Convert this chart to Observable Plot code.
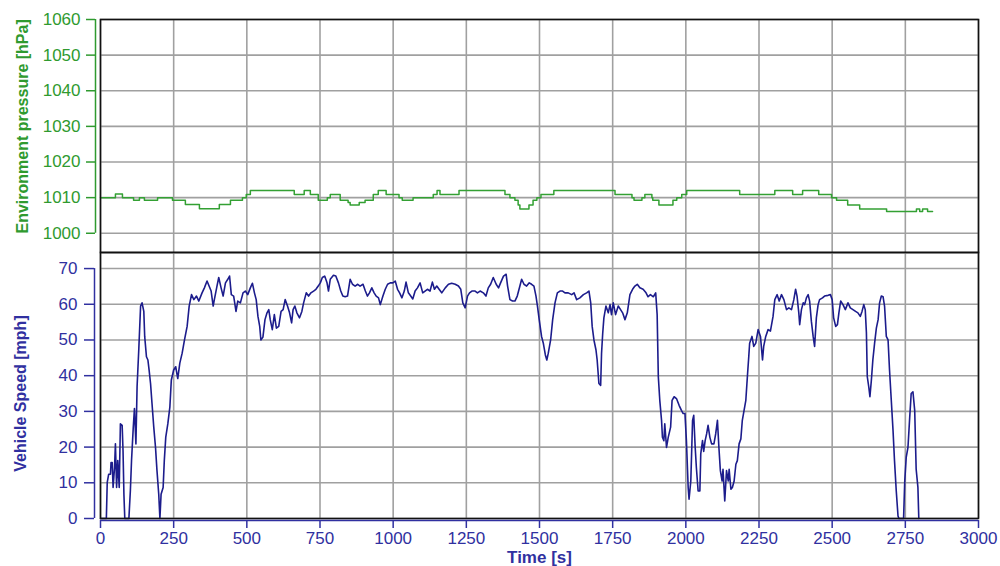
<!DOCTYPE html>
<html>
<head>
<meta charset="utf-8">
<script src="https://cdn.jsdelivr.net/npm/d3@7"></script>
<script src="https://cdn.jsdelivr.net/npm/@observablehq/plot@0.6"></script>
<style>
  html, body { margin: 0; padding: 0; background: #fff; }
  #chart { position: relative; width: 1000px; height: 566px; overflow: hidden; }
  #chart svg { position: absolute; left: 0; overflow: visible; }
</style>
</head>
<body>
<div id="chart"></div>
<script>
// ---------- data ----------
const timeTicks = [0, 250, 500, 750, 1000, 1250, 1500, 1750, 2000, 2250, 2500, 2750, 3000];
const pressureTicks = [1000, 1010, 1020, 1030, 1040, 1050, 1060];
const speedTicks = [0, 10, 20, 30, 40, 50, 60, 70];

const pressureLabel = "Environment pressure [hPa]";
const speedLabel = "Vehicle Speed [mph]";
const timeLabel = "Time [s]";

// Environment pressure (step changes), time [s]
const pressureTime = [0, 51, 75, 113, 133, 150, 195, 246, 290, 338, 406, 444, 485, 498, 512, 662, 696, 717, 744, 775, 785, 819, 846, 853, 884, 904, 932, 949, 976, 1020, 1031, 1068, 1137, 1150, 1160, 1225, 1382, 1399, 1416, 1427, 1433, 1464, 1478, 1491, 1505, 1549, 1758, 1816, 1823, 1850, 1860, 1884, 1887, 1908, 1956, 1969, 1986, 2003, 2184, 2304, 2365, 2399, 2454, 2498, 2515, 2553, 2594, 2686, 2788, 2799, 2809, 2826, 2843];
const pressureValue = [1010, 1011, 1010, 1009.3, 1010, 1009.3, 1010, 1009.3, 1008.1, 1006.9, 1008.1, 1009.3, 1010, 1010.9, 1012, 1010.9, 1012, 1010.9, 1009.3, 1010, 1010.9, 1009.3, 1008.6, 1007.9, 1008.6, 1009.3, 1010.9, 1012, 1010.9, 1010, 1009.3, 1010, 1010.9, 1012, 1010.9, 1012, 1010.9, 1010, 1009.3, 1007.9, 1006.8, 1007.9, 1009.3, 1010, 1010.9, 1012, 1010.9, 1010, 1009.3, 1010, 1010.9, 1010, 1009.3, 1007.9, 1009.3, 1010, 1010.9, 1012, 1010.9, 1012, 1010.9, 1012, 1010.9, 1010, 1009.3, 1007.9, 1006.8, 1006.1, 1006.8, 1006.1, 1006.8, 1006.1, 1006.1];

// Vehicle speed, time [s]
const speedTime = [0, 20, 23, 28, 34, 36, 40, 43, 48, 51, 55, 59, 64, 68, 74, 77, 80, 83, 97, 102, 106, 112, 116, 121, 125, 131, 137, 142, 148, 151, 157, 162, 166, 171, 176, 182, 188, 193, 199, 203, 207, 214, 218, 223, 230, 237, 242, 250, 257, 264, 271, 279, 287, 296, 303, 311, 319, 328, 336, 347, 355, 364, 371, 378, 385, 389, 398, 404, 412, 419, 427, 435, 441, 447, 455, 463, 469, 478, 487, 495, 503, 512, 519, 526, 532, 538, 544, 548, 555, 562, 569, 575, 580, 587, 594, 601, 609, 617, 624, 631, 639, 646, 653, 658, 664, 671, 680, 688, 694, 703, 711, 719, 728, 736, 744, 751, 758, 766, 774, 779, 785, 796, 804, 813, 821, 828, 836, 844, 853, 861, 870, 879, 887, 897, 905, 912, 919, 927, 935, 942, 950,
  956, 965, 973, 981, 990, 999, 1007, 1015, 1022, 1030, 1038, 1044, 1052, 1060, 1067, 1075, 1083, 1092, 1101, 1109, 1117, 1126, 1134, 1141, 1149, 1157, 1166, 1178, 1189, 1200, 1212, 1223, 1231, 1238, 1246, 1254, 1261, 1269, 1280, 1288, 1297, 1308, 1317, 1325, 1333, 1342, 1352, 1360, 1367, 1377, 1386, 1391, 1399, 1408, 1416, 1424, 1433, 1439, 1447, 1456, 1465, 1473, 1481, 1488, 1493, 1499, 1507, 1513, 1520, 1525, 1530, 1538, 1545, 1553, 1561, 1570, 1579, 1587, 1598, 1610, 1618, 1627, 1638, 1650, 1661, 1669, 1675, 1680, 1686, 1693, 1697, 1703, 1709, 1712, 1716, 1720, 1727, 1735, 1741, 1746, 1752, 1760, 1769, 1777, 1784, 1792, 1800, 1809, 1818, 1826, 1834,
  1843, 1854, 1864, 1871, 1879, 1889, 1897, 1902, 1906, 1911, 1917, 1920, 1925, 1928, 1934, 1940, 1948, 1953, 1960, 1968, 1977, 1985, 1991, 1997, 2002, 2008, 2011, 2017, 2023, 2027, 2032, 2036, 2042, 2048, 2051, 2057, 2061, 2066, 2071, 2076, 2082, 2088, 2096, 2102, 2108, 2113, 2118, 2124, 2127, 2133, 2139, 2145, 2148, 2154, 2159, 2165, 2171, 2176, 2182, 2188, 2193, 2199, 2205, 2211, 2215, 2218, 2226, 2232, 2239, 2247, 2255, 2262, 2266, 2273, 2281, 2289, 2298, 2304, 2312, 2319, 2327, 2335, 2344, 2352, 2361, 2369, 2375, 2380, 2386, 2389, 2395, 2401, 2406, 2412, 2418, 2423, 2429, 2435, 2440, 2446, 2452, 2457, 2467, 2474, 2486, 2494, 2500, 2505, 2512, 2518, 2523, 2529, 2537, 2545, 2554, 2562, 2571, 2580, 2588, 2596, 2602, 2608, 2613, 2617, 2620, 2625, 2629, 2634, 2639, 2645, 2651, 2657, 2662, 2668, 2674, 2679, 2685, 2691, 2696, 2702, 2708, 2713, 2719, 2725, 2728, 2744, 2748, 2753, 2759, 2765, 2770, 2776, 2782, 2787, 2793, 2796];
const speedValue = [0, 0, 10.1, 12.4, 12.4, 15.7, 15.7, 8.7, 14.3, 20.9, 8.7, 16.2, 8.7, 26.5, 26.1, 19.0, 6.8, 0, 0, 7.7, 16.2, 25.6, 30.8, 20.9, 36.9, 47.7, 59.5, 60.4, 58.0, 51.0, 45.3, 44.4, 41.6, 37.8, 32.2, 25.6, 19.9, 13.4, 6.8, 0, 6.8, 8.7, 16.2, 22.8, 26.5, 31.2, 38.8, 41.6, 42.5, 39.2, 43.5, 46.3, 50.0, 53.8, 59.5, 62.7, 61.3, 62.3, 60.9, 63.2, 64.6, 66.5, 65.1, 63.7, 59.5, 61.3, 65.1, 67.5, 64.6, 62.3, 66.0, 67.0, 67.9, 62.7, 62.3, 58.0, 60.9, 60.4, 63.2, 63.7, 62.7, 64.6, 65.9, 63.2, 61.3, 56.6, 53.8, 50.0, 50.8, 55.7, 57.6, 58.5, 55.7, 52.9, 57.1, 53.3, 53.8, 58.0, 58.5, 61.3, 59.5, 57.6, 54.8, 58.5, 59.5, 57.6, 56.2, 58.0, 60.4, 63.2, 62.3, 63.2, 63.7, 64.2, 65.1, 66.0, 67.5, 67.9, 66.0, 63.7, 67.0, 68.1, 67.9, 66.0, 63.7, 62.3, 62.1, 62.3, 67.0, 65.6, 65.1, 65.6, 65.1, 65.6, 63.7, 62.3, 63.2, 64.6, 63.2, 62.3, 61.8,
  59.9, 62.3, 64.2, 65.6, 66.0, 66.0, 66.5, 64.2, 63.2, 61.8, 63.7, 66.2, 63.2, 62.3, 61.5, 63.7, 64.6, 66.0, 63.2, 63.7, 64.2, 63.7, 66.2, 64.2, 65.1, 64.2, 63.2, 64.6, 65.6, 65.9, 65.6, 65.1, 64.2, 60.4, 59.0, 62.3, 63.2, 63.7, 63.7, 63.2, 63.7, 63.2, 62.3, 64.6, 65.6, 67.5, 65.6, 64.6, 66.0, 67.9, 68.4, 65.1, 61.3, 60.9, 60.9, 62.3, 65.1, 67.0, 65.6, 65.1, 66.0, 65.6, 65.1, 62.3, 59.5, 55.7, 51.0, 49.1, 45.8, 44.4, 46.3, 50.0, 55.7, 60.4, 63.2, 63.7, 63.7, 63.2, 63.2, 62.7, 63.2, 61.3, 61.8, 62.7, 63.2, 63.7, 60.4, 53.8, 50.0, 47.2, 44.4, 37.8, 37.3, 46.3, 51.9, 56.2, 59.5, 57.6, 59.9, 57.1, 60.4, 57.1, 59.5, 58.5, 57.6, 55.7, 57.6, 62.7, 64.2, 65.1, 65.6,
  64.6, 64.2, 63.2, 62.1, 62.7, 62.1, 63.2, 57.1, 39.7, 33.1, 27.5, 22.8, 21.8, 26.5, 19.9, 22.8, 25.6, 33.1, 34.1, 33.6, 31.7, 30.3, 29.4, 29.4, 21.8, 8.7, 5.4, 10.5, 27.5, 28.9, 19.9, 14.3, 7.7, 7.7, 18.1, 21.8, 18.8, 21.8, 23.7, 26.1, 22.8, 20.9, 20.9, 23.7, 27.5, 19.9, 13.4, 10.5, 13.8, 4.9, 13.4, 10.5, 13.8, 8.2, 8.7, 10.5, 15.2, 16.2, 20.9, 22.3, 27.5, 30.3, 33.1, 40.6, 45.3, 49.1, 51.0, 48.2, 49.1, 52.9, 51.0, 44.4, 48.2, 51.0, 52.9, 52.5, 56.6, 61.3, 62.7, 60.9, 62.7, 61.3, 58.5, 59.0, 58.5, 61.3, 64.2, 62.3, 57.6, 54.3, 58.5, 60.4, 59.9, 61.8, 62.7, 60.9, 55.2, 51.0, 48.2, 56.2, 59.9, 61.3, 61.8, 62.3, 62.5, 62.7, 61.3, 56.2, 53.8, 54.3, 57.6, 60.9, 59.9, 58.5, 60.4, 59.0, 58.5, 58.0, 57.6, 56.6, 58.0, 59.9, 58.5, 52.0, 39.7, 36.9, 34.1, 38.8, 44.4, 49.1, 53.3, 55.7, 60.4, 62.3, 62.1, 59.5, 51.0, 50.0, 41.6, 33.1, 24.6, 16.2, 7.7, 0.7, 0, 0, 10.5, 17.1, 19.9, 28.4, 35.0, 35.5, 30.3, 13.8, 8.7, 0];

// ---------- build ----------
const pressure = pressureTime.map((t, i) => ({t, p: pressureValue[i]}));
const speed = speedTime.map((t, i) => ({t, v: speedValue[i]}));

const green = "#2f9a2f";
const greenLine = "#33a033";
const blue = "#3030a0";
const blueLine = "#1c1c8c";
const gridColor = "#a0a0a0";
const font = "'Liberation Sans', Arial, sans-serif";
const W = 1000, ML = 100, MR = 22;
const xDomain = [timeTicks[0], timeTicks[timeTicks.length - 1]];
const mid = a => (a[0] + a[a.length - 1]) / 2;
const plain = d => String(d);

const topPlot = Plot.plot({
  width: W, height: 253,
  marginLeft: ML, marginRight: MR, marginTop: 19, marginBottom: 1,
  style: {fontFamily: font, fontSize: "17px", background: "transparent", overflow: "visible"},
  x: {domain: xDomain, axis: null},
  y: {domain: [994.6, pressureTicks[pressureTicks.length - 1]], axis: null},
  marks: [
    Plot.ruleX(timeTicks, {stroke: gridColor, strokeWidth: 1.6}),
    Plot.ruleY(pressureTicks, {stroke: gridColor, strokeWidth: 1.6}),
    Plot.line(pressure, {x: "t", y: "p", curve: "step-after", stroke: greenLine, strokeWidth: 1.5}),
    Plot.frame({stroke: "#111", strokeWidth: 1.6}),
    Plot.ruleX([xDomain[0]], {y1: pressureTicks[0], y2: pressureTicks[pressureTicks.length - 1], dx: -5, stroke: green, strokeWidth: 1.5}),
    Plot.axisY({ticks: pressureTicks, tickFormat: plain, tickSize: 9, tickPadding: 6, dx: -5, color: green, label: null, fontSize: 17, strokeWidth: 1.5}),
    Plot.text([pressureLabel], {text: d => d, x: xDomain[0], y: mid(pressureTicks), dx: -78, rotate: -90, fill: green, fontWeight: "bold", fontSize: 16})
  ]
});

const bottomPlot = Plot.plot({
  width: W, height: 315,
  marginLeft: ML, marginRight: MR, marginTop: 1, marginBottom: 48,
  style: {fontFamily: font, fontSize: "17px", background: "transparent", overflow: "visible"},
  x: {domain: xDomain, axis: null},
  y: {domain: [speedTicks[0], 74.5], axis: null},
  marks: [
    Plot.ruleX(timeTicks, {stroke: gridColor, strokeWidth: 1.6}),
    Plot.ruleY(speedTicks, {stroke: gridColor, strokeWidth: 1.6}),
    Plot.line(speed, {x: "t", y: "v", stroke: blueLine, strokeWidth: 1.6}),
    Plot.frame({stroke: "#111", strokeWidth: 1.6}),
    Plot.ruleX([xDomain[0]], {y1: speedTicks[0], y2: speedTicks[speedTicks.length - 1], dx: -6, stroke: blue, strokeWidth: 1.5}),
    Plot.axisY({ticks: speedTicks, tickFormat: plain, tickSize: 10, tickPadding: 7, dx: -6, color: blue, label: null, fontSize: 17, strokeWidth: 1.5}),
    Plot.ruleY([speedTicks[0]], {x1: xDomain[0], x2: xDomain[1], dy: 2, stroke: blue, strokeWidth: 1.5}),
    Plot.axisX({ticks: timeTicks, tickFormat: plain, tickSize: 8, tickPadding: 3, dy: 2, color: blue, label: null, fontSize: 17, strokeWidth: 1.5}),
    Plot.text([speedLabel], {text: d => d, x: xDomain[0], y: mid(speedTicks), dx: -80, rotate: -90, fill: blue, fontWeight: "bold", fontSize: 16}),
    Plot.text([timeLabel], {text: d => d, x: mid(timeTicks), frameAnchor: "bottom", lineAnchor: "middle", dy: 39, fill: blue, fontWeight: "bold", fontSize: 17})
  ]
});

const chart = document.getElementById("chart");
topPlot.style.top = "0px";
bottomPlot.style.top = "251px";
chart.appendChild(topPlot);
chart.appendChild(bottomPlot);
</script>
</body>
</html>
